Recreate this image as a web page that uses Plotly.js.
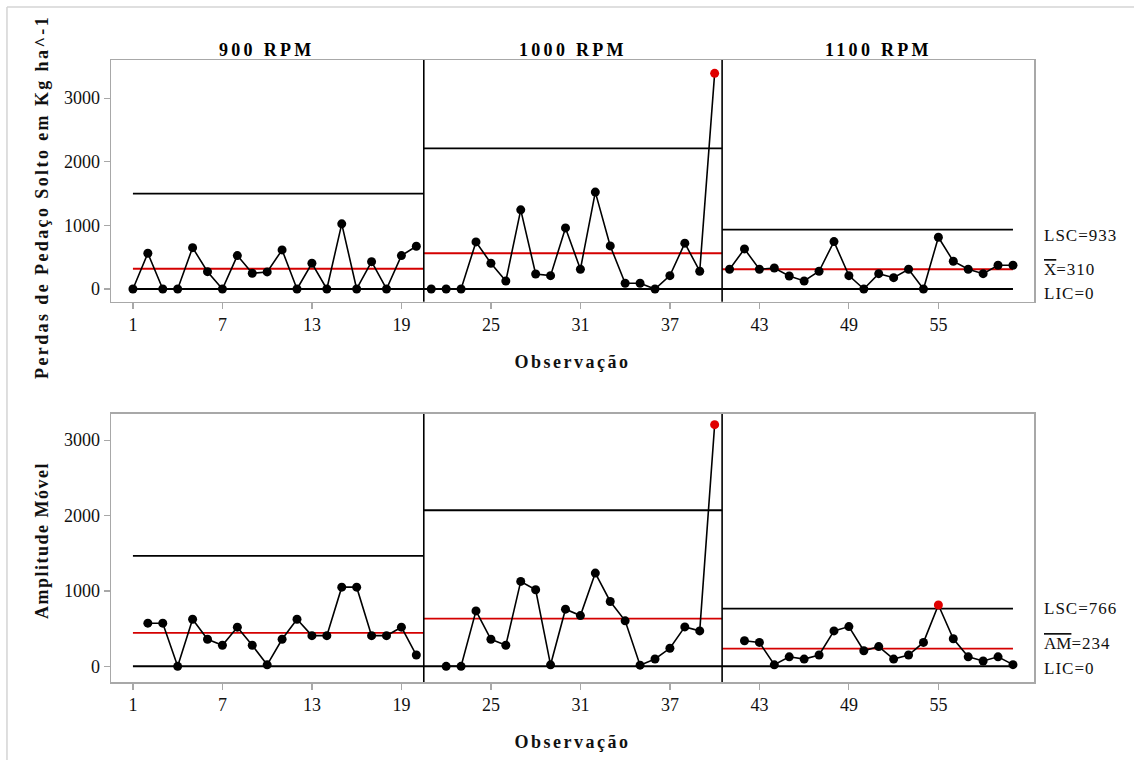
<!DOCTYPE html>
<html>
<head>
<meta charset="utf-8">
<script src="https://cdn.plot.ly/plotly-3.0.1.min.js"></script>
<style>html,body{margin:0;padding:0;background:#fff;}#chart{width:1134px;height:760px;}</style>
</head>
<body>
<div id="chart"></div>
<script>
// ---- Data ----
const stages = ["900 RPM", "1000 RPM", "1100 RPM"];

const obs900  = [1,2,3,4,5,6,7,8,9,10,11,12,13,14,15,16,17,18,19,20];
const obs1000 = [21,22,23,24,25,26,27,28,29,30,31,32,33,34,35,36,37,38,39,40];
const obs1100 = [41,42,43,44,45,46,47,48,49,50,51,52,53,54,55,56,57,58,59,60];

// Individual values (Perdas de Pedaço Solto, Kg ha^-1)
const ind900  = [0,562,0,0,650,272,0,525,247,268,614,0,405,0,1024,0,430,0,525,672];
const ind1000 = [0,0,0,740,405,126,1244,236,210,960,310,1523,677,90,90,0,210,720,279,3390];
const ind1100 = [310,630,310,330,205,126,279,745,210,0,241,178,310,0,814,436,310,241,373,373];

// Moving ranges (start at 2nd observation of each stage)
const mrObs900  = [2,3,4,5,6,7,8,9,10,11,12,13,14,15,16,17,18,19,20];
const mrObs1000 = [22,23,24,25,26,27,28,29,30,31,32,33,34,35,36,37,38,39,40];
const mrObs1100 = [42,43,44,45,46,47,48,49,50,51,52,53,54,55,56,57,58,59,60];
const mr900  = [572,572,0,625,359,279,519,279,20,359,625,407,407,1050,1050,407,407,519,150];
const mr1000 = [0,0,735,359,279,1126,1015,20,758,673,1237,860,603,15,97,239,523,470,3205];
const mr1100 = [339,317,20,126,96,150,470,527,206,262,96,150,317,814,365,126,70,126,22];

// Control limits per stage
const indUCL = [1500, 2210, 933];
const indCL  = [318, 562, 310];
const indLCL = [0, 0, 0];
const mrUCL  = [1465, 2070, 766];
const mrCL   = [443, 632, 234];
const mrLCL  = [0, 0, 0];

// Out-of-control flags (observation numbers)
const indOut = [40];
const mrOut  = [40, 55];

// Tick labels
const xTicks = [1,7,13,19,25,31,37,43,49,55];
const yTicks = [0,1000,2000,3000];

// Texts
const xTitle = "Observação";
const yTitleTop = "Perdas de Pedaço Solto em Kg ha^-1";
const yTitleBottom = "Amplitude Móvel";
const indLabels = ["LSC=933", "X", "LIC=0"];
const mrLabels  = ["LSC=766", "AM", "LIC=0"];
const indCLText = "=310";
const mrCLText  = "=234";

// ---- Build ----
const FONT = "Liberation Serif";
const xRange = [-0.47, 61.41];
const obsStages = [obs900, obs1000, obs1100];
const indStages = [ind900, ind1000, ind1100];
const mrObsStages = [mrObs900, mrObs1000, mrObs1100];
const mrStages = [mr900, mr1000, mr1100];
const sp = (t, px) => '<span style="letter-spacing:' + px + 'px">' + t + '</span>';

const bounds = [];
for (let i = 0; i < obsStages.length - 1; i++) {
  bounds.push((obsStages[i][obsStages[i].length - 1] + obsStages[i + 1][0]) / 2);
}
const segStart = obsStages.map((o, i) => i === 0 ? o[0] : bounds[i - 1]);
const segEnd = obsStages.map((o, i) => i === obsStages.length - 1 ? o[o.length - 1] : bounds[i]);

const traces = [];
function addLimit(xa, ya, i, val, color, width) {
  traces.push({
    x: [segStart[i], segEnd[i]], y: [val, val], xaxis: xa, yaxis: ya,
    mode: "lines", line: {color: color, width: width}, hoverinfo: "skip", showlegend: false
  });
}
for (let i = 0; i < 3; i++) {
  addLimit("x", "y", i, indUCL[i], "#000", 1.8);
  addLimit("x", "y", i, indLCL[i], "#000", 2);
  addLimit("x", "y", i, indCL[i], "#d40000", 1.8);
  addLimit("x2", "y2", i, mrUCL[i], "#000", 1.8);
  addLimit("x2", "y2", i, mrLCL[i], "#000", 2);
  addLimit("x2", "y2", i, mrCL[i], "#d40000", 1.8);
}
for (let i = 0; i < 3; i++) {
  traces.push({
    x: obsStages[i], y: indStages[i], xaxis: "x", yaxis: "y",
    mode: "lines+markers", line: {color: "#000", width: 1.6},
    marker: {size: 9, color: obsStages[i].map(o => indOut.includes(o) ? "#e00000" : "#000")},
    showlegend: false
  });
  traces.push({
    x: mrObsStages[i], y: mrStages[i], xaxis: "x2", yaxis: "y2",
    mode: "lines+markers", line: {color: "#000", width: 1.6},
    marker: {size: 9, color: mrObsStages[i].map(o => mrOut.includes(o) ? "#e00000" : "#000")},
    showlegend: false
  });
}

const shapes = [];
bounds.forEach(b => {
  shapes.push({type: "line", xref: "x", yref: "y domain", x0: b, x1: b, y0: 0, y1: 1, line: {color: "#000", width: 1.6}});
  shapes.push({type: "line", xref: "x2", yref: "y2 domain", x0: b, x1: b, y0: 0, y1: 1, line: {color: "#000", width: 1.6}});
});
shapes.push({type: "line", xref: "paper", yref: "paper", x0: -0.1127, x1: 1.2, y0: 1.0852, y1: 1.0852, line: {color: "#d4d4d4", width: 1.5}});
shapes.push({type: "line", xref: "paper", yref: "paper", x0: -0.1127, x1: -0.1127, y0: 1.0852, y1: -0.2, line: {color: "#d4d4d4", width: 1.5}});

const annotations = [];
const segCenters = segStart.map((s, i) => ((i === 0 ? xRange[0] : s) + (i === 2 ? xRange[1] : segEnd[i])) / 2);
stages.forEach((s, i) => {
  annotations.push({text: "<b>" + sp(s, 3.3) + "</b>", xref: "x", yref: "paper", x: segCenters[i], y: 1.016,
    showarrow: false, xanchor: "center", yanchor: "middle", font: {family: FONT, size: 18, color: "#000"}});
});
const labFont = {family: FONT, size: 17, color: "#111"};
function rightLabel(ya, val, text, shift) {
  annotations.push({text: text, xref: "paper", yref: ya, x: 1, y: val, xshift: 8, yshift: shift,
    xanchor: "left", yanchor: "middle", showarrow: false, font: labFont});
}
rightLabel("y", indUCL[2], sp(indLabels[0], 1), -6);
rightLabel("y", indCL[2], '<span style="text-decoration:overline">' + indLabels[1] + '</span>' + sp(indCLText, 1), 0);
rightLabel("y", indLCL[2], sp(indLabels[2], 1), -5);
rightLabel("y2", mrUCL[2], sp(mrLabels[0], 1), 0);
rightLabel("y2", mrCL[2], '<span style="text-decoration:overline">' + mrLabels[1] + '</span>' + sp(mrCLText, 1), 5);
rightLabel("y2", mrLCL[2], sp(mrLabels[2], 1), -2);

const titleFont = {family: FONT, size: 18, color: "#111"};
// y-axis titles as rotated annotations
annotations.push({text: "<b>" + sp(yTitleTop, 2.4) + "</b>", xref: "paper", yref: "paper", x: -0.0748, y: 0.7797,
  textangle: -90, showarrow: false, xanchor: "center", yanchor: "middle", font: titleFont});
annotations.push({text: "<b>" + sp(yTitleBottom, 1.5) + "</b>", xref: "paper", yref: "paper", x: -0.0748, y: 0.2283,
  textangle: -90, showarrow: false, xanchor: "center", yanchor: "middle", font: titleFont});

const axisCommon = {
  showgrid: false, zeroline: false, showline: true, linecolor: "#a8a8a8", linewidth: 1.5, mirror: true,
  ticks: "outside", ticklen: 6, tickcolor: "#a8a8a8", tickwidth: 1.2,
  tickfont: {family: FONT, size: 18, color: "#111"}
};

const layout = {
  width: 1134, height: 760,
  margin: {l: 111, r: 100, t: 60, b: 78},
  paper_bgcolor: "#fff", plot_bgcolor: "#fff",
  showlegend: false,
  xaxis: Object.assign({}, axisCommon, {domain: [0, 1], anchor: "y", range: xRange, tickvals: xTicks,
    title: {text: "<b>" + sp(xTitle, 2.5) + "</b>", font: titleFont, standoff: 21}}),
  yaxis: Object.assign({}, axisCommon, {domain: [0.6114, 1], anchor: "x", range: [-200, 3600], tickvals: yTicks}),
  xaxis2: Object.assign({}, axisCommon, {domain: [0, 1], anchor: "y2", range: xRange, tickvals: xTicks,
    title: {text: "<b>" + sp(xTitle, 2.5) + "</b>", font: titleFont, standoff: 21}}),
  yaxis2: Object.assign({}, axisCommon, {domain: [0, 0.4309], anchor: "x2", range: [-208, 3347], tickvals: yTicks}),
  shapes: shapes,
  annotations: annotations
};

Plotly.newPlot("chart", traces, layout, {displayModeBar: false, staticPlot: true});
</script>
</body>
</html>
